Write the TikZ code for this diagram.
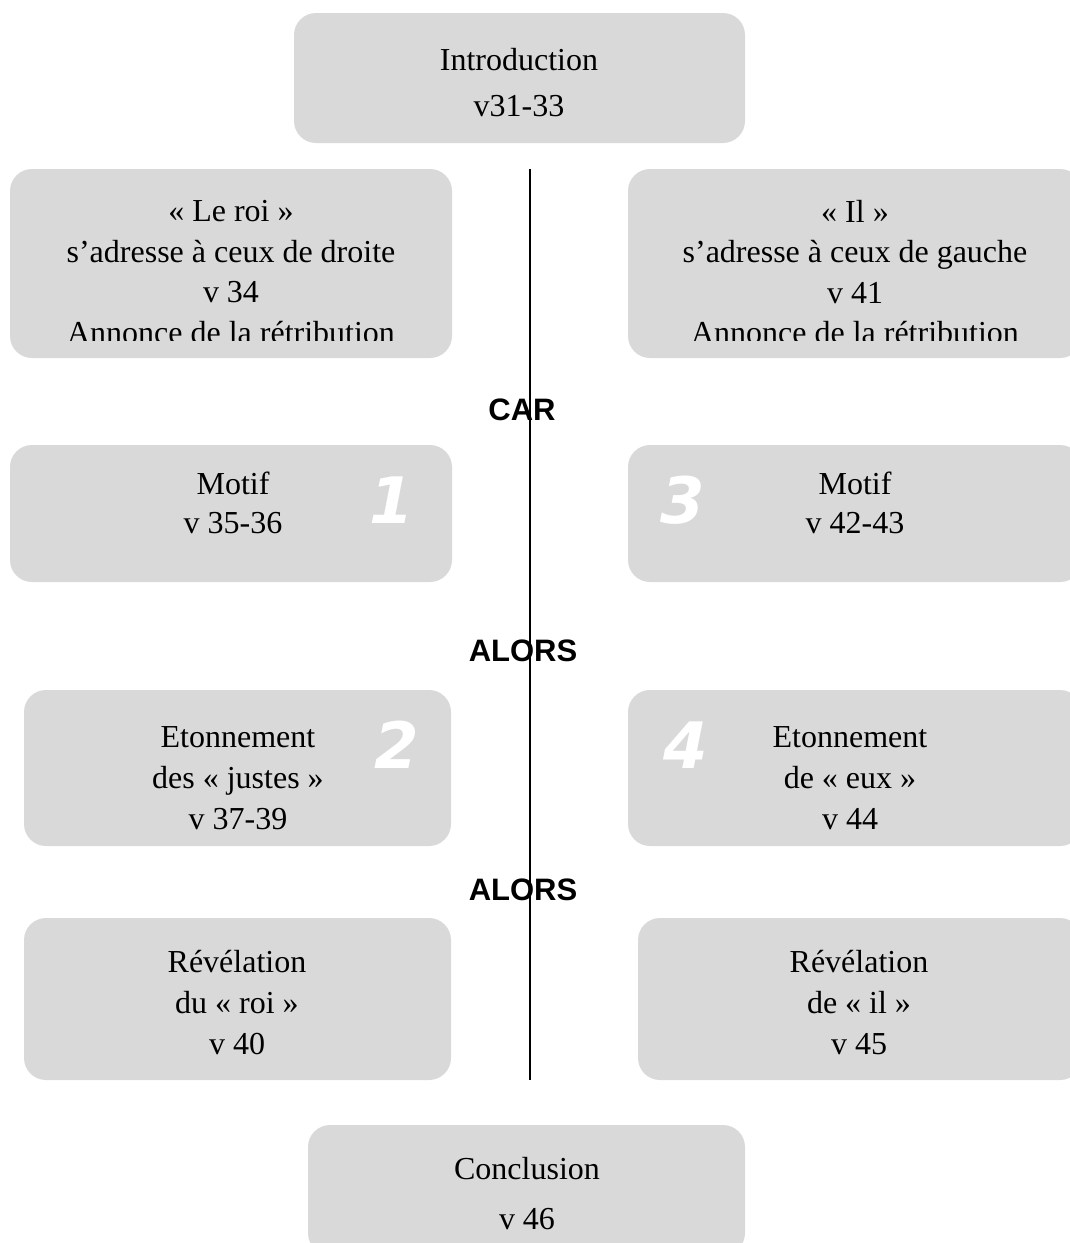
\documentclass[tikz,border=0pt]{standalone}
\usepackage{fontspec}
\setmainfont{Liberation Serif}
\newfontfamily\lblfont{Liberation Sans}
\newfontfamily\numfont{DejaVu Sans}
\definecolor{boxgray}{HTML}{D9D9D9}
\begin{document}
\begin{tikzpicture}[x=1pt,y=-1pt,
  box/.style={fill=boxgray, rounded corners=22pt, draw=none, inner sep=0pt},
  txt/.style={align=center, inner sep=0pt, text=black, font=\fontsize{32}{41}\selectfont},
  kw/.style={font=\lblfont\bfseries\fontsize{31}{32}\selectfont, inner sep=0pt},
  num/.style={text=white, font=\numfont\bfseries\itshape\fontsize{64}{64}\selectfont, inner sep=0pt}]
\useasboundingbox (0,0) rectangle (1070,1243);
\clip (0,0) rectangle (1070,1243);
% boxes
\node[box, minimum width=451pt, minimum height=130pt] (intro) at (519.5,78) {};
\node[box, minimum width=442pt, minimum height=189pt] (l1) at (231,263.5) {};
\node[box, minimum width=454pt, minimum height=189pt] (r1) at (855,263.5) {};
\node[box, minimum width=442pt, minimum height=137pt] (l2) at (231,513.5) {};
\node[box, minimum width=454pt, minimum height=137pt] (r2) at (855,513.5) {};
\node[box, minimum width=427pt, minimum height=156pt] (l3) at (237.5,768) {};
\node[box, minimum width=454pt, minimum height=156pt] (r3) at (855,768) {};
\node[box, minimum width=427pt, minimum height=162pt] (l4) at (237.5,999) {};
\node[box, minimum width=444pt, minimum height=162pt] (r4) at (860,999) {};
\node[box, minimum width=437pt, minimum height=130pt] (concl) at (526.5,1190) {};
% texts
\node[txt, font=\fontsize{32}{46}\selectfont] (tintro) at (519,83) {Introduction\\v31-33};
\begin{scope}
\clip (0,169) rectangle (1070,340);
\node[txt, font=\fontsize{32}{40.5}\selectfont] (tl1) at (231,272) {« Le roi »\\s’adresse à ceux de droite\\v 34\\Annonce de la rétribution};
\node[txt, font=\fontsize{32}{40.5}\selectfont] (tr1) at (855,272) {« Il »\\s’adresse à ceux de gauche\\v 41\\Annonce de la rétribution};
\end{scope}
\node[txt, font=\fontsize{32}{39}\selectfont] (tl2) at (233,503) {Motif\\v 35-36};
\node[txt, font=\fontsize{32}{39}\selectfont] (tr2) at (855,503) {Motif\\v 42-43};
\node[txt] (tl3) at (238,778) {Etonnement\\des « justes »\\v 37-39};
\node[txt] (tr3) at (850,778) {Etonnement\\de « eux »\\v 44};
\node[txt] (tl4) at (237,1003) {Révélation\\du « roi »\\v 40};
\node[txt] (tr4) at (859,1003) {Révélation\\de « il »\\v 45};
\node[txt, font=\fontsize{32}{50}\selectfont] (tconcl) at (527,1194) {Conclusion\\v 46};
% numbers
\node[num] (n1) at (392,500) {1};
\node[num] (n3) at (683,500) {3};
\node[num] (n2) at (397,745) {2};
\node[num] (n4) at (686,745) {4};
% keywords
\node[kw] (car) at (522,410) {CAR};
\node[kw] (alors1) at (523,651) {ALORS};
\node[kw] (alors2) at (523,890) {ALORS};
% vertical line
\coordinate (ltop) at (530,169);
\coordinate (lbot) at (530,1080);
\draw[line width=1.6pt] (ltop) -- (lbot);
\end{tikzpicture}
\end{document}
